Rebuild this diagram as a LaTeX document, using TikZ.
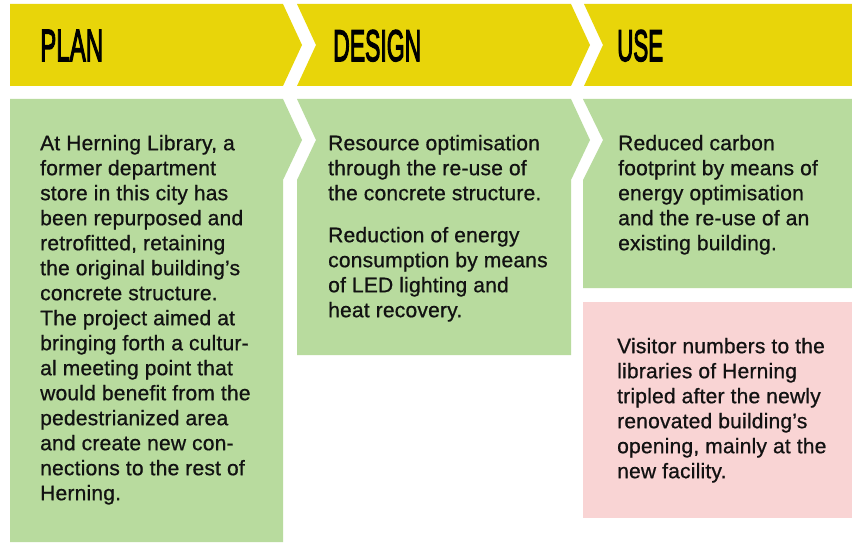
\documentclass[tikz,border=0pt]{standalone}
\usepackage{fontspec}
\setmainfont{Liberation Sans}
\newfontfamily\bodyfont{Liberation Sans}[FakeBold=0.8,LetterSpace=1]
\newfontfamily\headfont{Liberation Sans}[FakeBold=3.5]
\definecolor{hdyellow}{RGB}{232,213,10}
\definecolor{boxgreen}{RGB}{184,219,158}
\definecolor{boxpink}{RGB}{249,212,212}
\definecolor{txt}{RGB}{18,18,18}
\newcommand{\fl}{\rule{0pt}{20pt}}
\begin{document}
\begin{tikzpicture}[x=1pt,y=-1pt,
  hdr/.style={fill=hdyellow,draw=none},
  gbox/.style={fill=boxgreen,draw=none},
  pbox/.style={fill=boxpink,draw=none},
  body/.style={anchor=north west,inner sep=0pt,align=left,text=txt,
    font=\bodyfont\fontsize{21}{25}\selectfont},
  htext/.style={anchor=base west,inner sep=0pt,text=black}]
\useasboundingbox (0,0) rectangle (852,543);
\fill[white] (0,0) rectangle (852,543);
% headers
\fill[hdr] (10,4) -- (283,4) -- (302,45) -- (283,86) -- (10,86) -- cycle;
\fill[hdr] (297,4) -- (571,4) -- (590,45) -- (571,86) -- (297,86) -- (316,45) -- cycle;
\fill[hdr] (584,4) -- (852,4) -- (852,86) -- (584,86) -- (603,45) -- cycle;
\node[htext] (hplan) at (40,61) {\resizebox{63pt}{31pt}{\headfont PLAN}};
\node[htext] (hdesign) at (333,61) {\resizebox{88pt}{31pt}{\headfont DESIGN}};
\node[htext] (huse) at (617,61) {\resizebox{46pt}{31pt}{\headfont USE}};
% body boxes
\fill[gbox] (10,99) -- (283,99) -- (302,140) -- (283,180) -- (283,542) -- (10,542) -- cycle;
\fill[gbox] (297,99) -- (571,99) -- (590,140) -- (571,180) -- (571,355) -- (297,355) -- (297,180) -- (316,140) -- cycle;
\fill[gbox] (583,99) -- (852,99) -- (852,288) -- (583,288) -- (583,180) -- (603,140) -- cycle;
\fill[pbox] (583,302) rectangle (852,518);
% texts
\node[body] (tplan) at (40,130) {\fl At Herning Library, a\\former department\\store in this city has\\been repurposed and\\retrofitted, retaining\\the original building’s\\concrete structure.\\The project aimed at\\bringing forth a cultur-\\al meeting point that\\would benefit from the\\pedestrianized area\\and create new con-\\nections to the rest of\\Herning.};
\node[body] (tdesign) at (328,130) {\fl Resource optimisation\\through the re-use of\\the concrete structure.\\[17pt]Reduction of energy\\consumption by means\\of LED lighting and\\heat recovery.};
\node[body] (tuse) at (618,130) {\fl Reduced carbon\\footprint by means of\\energy optimisation\\and the re-use of an\\existing building.};
\node[body] (tvisit) at (617,333) {\fl Visitor numbers to the\\libraries of Herning\\tripled after the newly\\renovated building’s\\opening, mainly at the\\new facility.};
\end{tikzpicture}
\end{document}
